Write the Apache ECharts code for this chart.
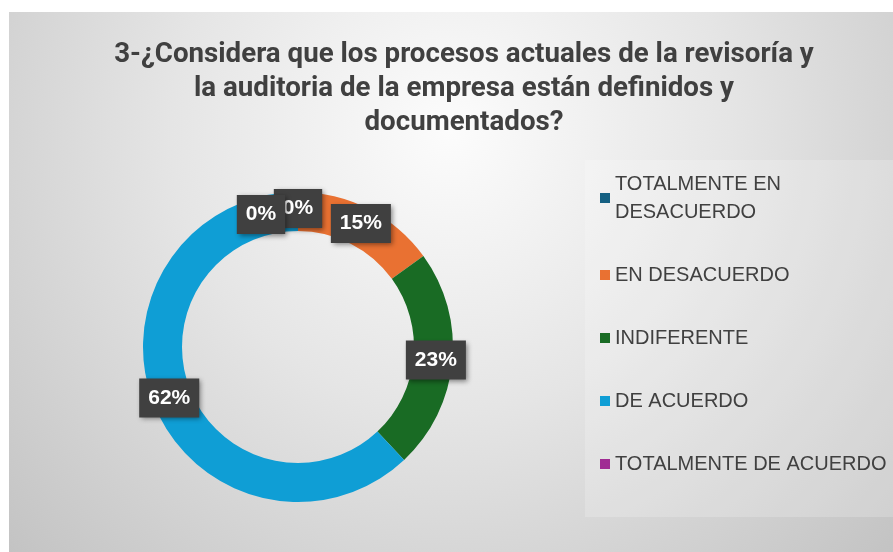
<!DOCTYPE html>
<html>
<head>
<meta charset="utf-8">
<script src="https://cdn.jsdelivr.net/npm/echarts@6/dist/echarts.min.js"></script>
<style>
  html, body { margin: 0; padding: 0; background: #ffffff; }
  #chart { position: absolute; left: 9px; top: 12px; width: 884px; height: 540px; }
</style>
</head>
<body>
<div id="chart"></div>
<script>
// categorías y porcentajes
const categorias = [
  "TOTALMENTE EN DESACUERDO",
  "EN DESACUERDO",
  "INDIFERENTE",
  "DE ACUERDO",
  "TOTALMENTE DE ACUERDO",
];
const porcentajes = [0, 15, 23, 62, 0];
const colores = ["#156082", "#E97132", "#196B24", "#0F9ED5", "#A02B93"];
const titulo =
  "3-¿Considera que los procesos actuales de la revisoría y\nla auditoria de la empresa están definidos y\ndocumentados?";

const datos = categorias.map((nombre, i) => ({
  name: nombre,
  value: porcentajes[i],
  itemStyle: { color: colores[i] },
}));

const chart = echarts.init(document.getElementById("chart"));
chart.setOption({
  backgroundColor: {
    type: "radial",
    x: 0.5,
    y: 0.22,
    r: 1.15,
    colorStops: [
      { offset: 0, color: "#fcfcfc" },
      { offset: 0.45, color: "#e5e5e5" },
      { offset: 1, color: "#c2c2c2" },
    ],
  },
  title: {
    text: titulo,
    left: 450,
    top: 21,
    textAlign: "center",
    textStyle: {
      fontFamily: "Roboto",
      fontWeight: "bold",
      fontSize: 27.7,
      lineHeight: 34,
      color: "#404040",
    },
  },
  legend: {
    orient: "vertical",
    left: 576,
    top: 148,
    padding: [10, 10, 39, 15],
    backgroundColor: "rgba(255,255,255,0.2)",
    icon: "rect",
    itemWidth: 10,
    itemHeight: 10,
    itemGap: 35,
    data: categorias,
    formatter: (n) => (n === "TOTALMENTE EN DESACUERDO" ? "TOTALMENTE EN\nDESACUERDO" : n),
    textStyle: {
      fontFamily: "Liberation Sans",
      fontSize: 20,
      lineHeight: 28,
      color: "#404040",
    },
  },
  series: [
    {
      type: "pie",
      center: [289, 335],
      radius: [116, 155],
      startAngle: 90,
      clockwise: true,
      silent: true,
      label: {
        show: true,
        position: "inside",
        formatter: "{c}%",
        color: "#ffffff",
        fontFamily: "Liberation Sans",
        fontWeight: "bold",
        fontSize: 21,
        lineHeight: 23,
        backgroundColor: "#404040",
        padding: [8, 9],
        shadowBlur: 5,
        shadowColor: "rgba(0,0,0,0.45)",
        shadowOffsetX: 2,
        shadowOffsetY: 2,
      },
      // la última etiqueta de 0% se desplaza para no tapar la primera
      labelLayout: (p) =>
        p.dataIndex === categorias.length - 1
          ? { dx: -37, dy: 6, hideOverlap: false }
          : { hideOverlap: false },
      labelLine: { show: false },
      data: datos,
    },
  ],
});
</script>
</body>
</html>
